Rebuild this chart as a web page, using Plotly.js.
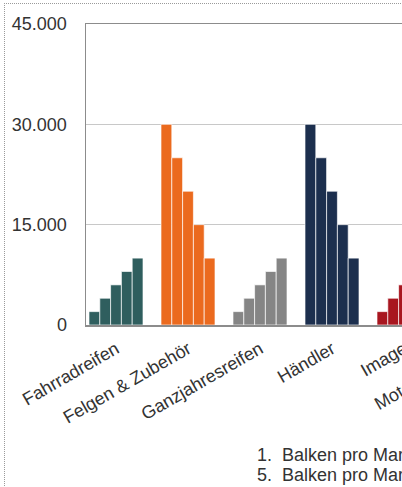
<!DOCTYPE html>
<html>
<head>
<meta charset="utf-8">
<script src="https://cdn.plot.ly/plotly-3.0.1.min.js"></script>
<style>
  html, body { margin: 0; padding: 0; width: 402px; height: 487px; overflow: hidden; background: #fff; }
  #frame { position: absolute; left: 4px; top: 3px; width: 1000px; height: 1000px;
           border-left: 1px dotted #9a9a9a; border-top: 1px dotted #9a9a9a; pointer-events: none; }
  #chart { position: absolute; left: 0; top: 0; width: 600px; height: 487px; }
</style>
</head>
<body>
<div id="chart"></div>
<div id="frame"></div>
<script>
const categories = ["Fahrradreifen", "Felgen & Zubehör", "Ganzjahresreifen", "Händler", "Image", "Motorradreifen"];
const seriesNames = ["1.  Balken pro Marke", "2.  Balken pro Marke", "3.  Balken pro Marke", "4.  Balken pro Marke", "5.  Balken pro Marke"];
const bar1 = [2000, 30000, 2000, 30000, 2000, 30000];
const bar2 = [4000, 25000, 4000, 25000, 4000, 25000];
const bar3 = [6000, 20000, 6000, 20000, 6000, 20000];
const bar4 = [8000, 15000, 8000, 15000, 8000, 15000];
const bar5 = [10000, 10000, 10000, 10000, 10000, 10000];
const categoryColors = ["#2F5E5E", "#EB6A1E", "#858585", "#1C2F4E", "#A8161F", "#4F7A3A"];
const yTicks = [0, 15000, 30000, 45000];

const seriesValues = [bar1, bar2, bar3, bar4, bar5];
const traces = seriesValues.map((vals, i) => ({
  type: "bar",
  name: seriesNames[i],
  x: categories,
  y: vals,
  marker: { color: categoryColors, line: { color: "rgba(255,255,255,0.65)", width: 1 } },
  showlegend: false,
  hoverinfo: "none"
}));

const W = 600, L = 86, R = 10;
const plotW = W - L - R;
const band = 72;
const r0 = -30 / band;
const FONT = "Liberation Sans, Arial, sans-serif";
const FS = 18;

const legendAnn = [
  { text: seriesNames[0], y: -0.432 },
  { text: seriesNames[4], y: -0.498 }
].map(a => ({
  xref: "paper", yref: "paper",
  x: (255 - L) / plotW, y: a.y,
  xanchor: "left", yanchor: "middle",
  text: a.text, showarrow: false,
  font: { family: FONT, size: FS, color: "#333" }
}));

const layout = {
  width: W, height: 487,
  margin: { l: L, r: R, t: 24, b: 162 },
  paper_bgcolor: "rgba(0,0,0,0)",
  plot_bgcolor: "#fff",
  separators: ",.",
  barmode: "group",
  bargap: 0.25,
  bargroupgap: 0,
  font: { family: FONT, size: FS, color: "#333" },
  xaxis: {
    type: "category",
    range: [r0, r0 + plotW / band],
    showline: true, linecolor: "#8c8c8c", linewidth: 1.5, mirror: true,
    showgrid: false, zeroline: false,
    tickangle: -30, ticks: "",
    ticklabelstandoff: 5,
    tickfont: { family: FONT, size: FS, color: "#333" }
  },
  yaxis: {
    range: [0, 45000],
    tickvals: yTicks,
    tickformat: ",d",
    showline: true, linecolor: "#8c8c8c", linewidth: 1.5,
    showgrid: true, gridcolor: "#c8c8c8", gridwidth: 1,
    zeroline: false, ticks: "",
    ticklabelstandoff: 14,
    tickfont: { family: FONT, size: FS, color: "#333" }
  },
  annotations: legendAnn
};

Plotly.newPlot("chart", traces, layout, { staticPlot: true, displayModeBar: false });
</script>
</body>
</html>
